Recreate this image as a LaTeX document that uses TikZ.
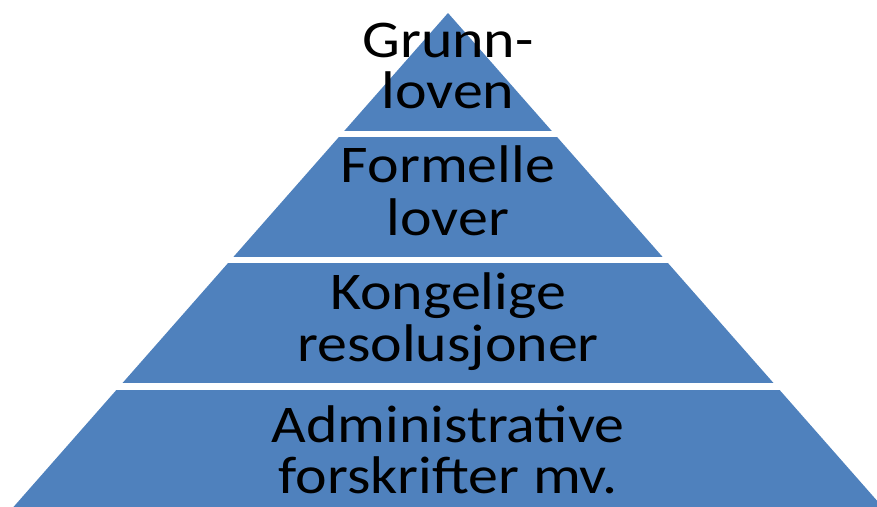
\documentclass[tikz,border=0pt]{standalone}
\usepackage{fontspec}
\setmainfont{Carlito}
\definecolor{pyrblue}{RGB}{79,129,189}
\begin{document}
\begin{tikzpicture}[x=1pt,y=-1pt,
  lbl/.style={font=\fontsize{53}{53}\selectfont, anchor=base, xscale=1.13, inner sep=0pt, text=black},
  gap/.style={fill=white}]
\useasboundingbox (0,0) rectangle (877,506);
\begin{scope}
\clip (0,0) rectangle (877,506);
\fill[pyrblue] (448,13) -- (2,520) -- (894,520) -- cycle;
\fill[gap] (0,130.7) rectangle (877,137.3);
\fill[gap] (0,257) rectangle (877,263.3);
\fill[gap] (0,383.2) rectangle (877,390);
\end{scope}
\node[lbl] (t1a) at (448,57) {Grunn-};
\node[lbl] (t1b) at (448,108) {loven};
\node[lbl] (t2a) at (448,182) {Formelle};
\node[lbl] (t2b) at (448,235) {lover};
\node[lbl] (t3a) at (448,309) {Kongelige};
\node[lbl] (t3b) at (448,361) {resolusjoner};
\node[lbl] (t4a) at (448,442) {Administrative};
\node[lbl] (t4b) at (448,493) {forskrifter mv.};
\end{tikzpicture}
\end{document}
